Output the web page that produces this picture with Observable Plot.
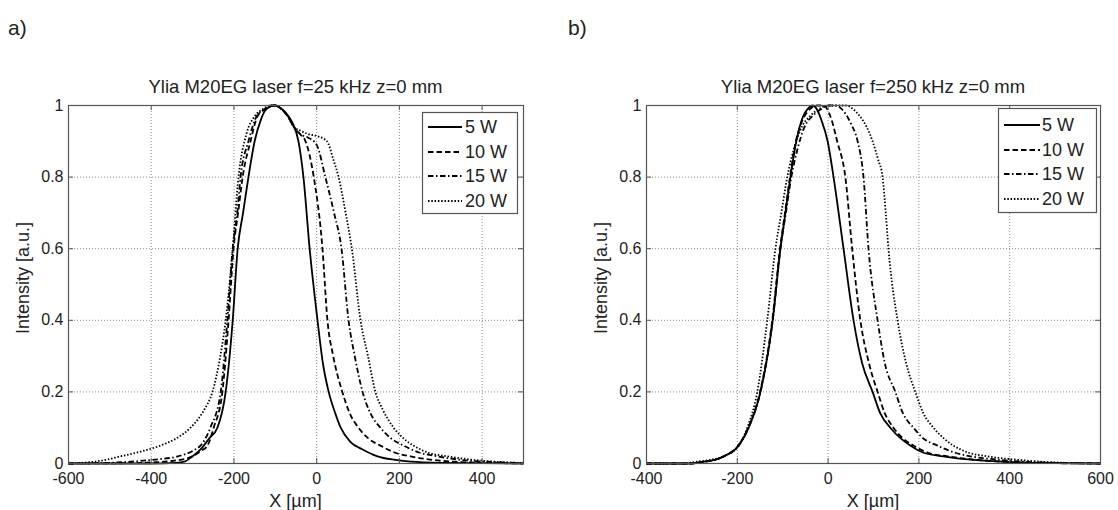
<!DOCTYPE html>
<html><head><meta charset="utf-8">
<script src="https://cdn.jsdelivr.net/npm/d3@7"></script>
<script src="https://cdn.jsdelivr.net/npm/@observablehq/plot@0.6"></script>
<style>
body{margin:0;background:#fff;font-family:"Liberation Sans",Arial,sans-serif;color:#222}
#wrap{position:relative;width:1118px;height:510px;overflow:hidden;background:#fff}
#wrap > svg{position:absolute;top:0}
</style></head><body><div id="wrap"></div>
<script>
// ---- shared ----
const seriesNames = ["5 W", "10 W", "15 W", "20 W"];
const yTicks = [0, 0.2, 0.4, 0.6, 0.8, 1];
const yLabel = "Intensity [a.u.]";
const xLabel = "X [µm]";

// ---- panel a: f = 25 kHz ----
const aTitle = "Ylia M20EG laser f=25 kHz z=0 mm";
const aXTicks = [-600, -400, -200, 0, 200, 400];
const aXDomain = [-600, 500];
const a5x = [-600,-400,-340,-320,-300,-280,-260,-240,-220,-203,-191,-178,-165,-150,-135,-125,-110,-100,-90,-75,-60,-44,-32,-17,2,15,29,45,58,82,110,147,190,227,300,400,500];
const a5y = [0,0,0.002,0.005,0.02,0.04,0.07,0.1,0.2,0.4,0.6,0.7,0.8,0.9,0.96,0.985,0.998,1,0.995,0.98,0.955,0.9,0.8,0.6,0.4,0.28,0.2,0.14,0.1,0.06,0.04,0.02,0.01,0.005,0.002,0.001,0];
const a10x = [-600,-450,-400,-350,-300,-280,-264,-249,-228,-213,-201,-190,-179,-160,-143,-125,-110,-100,-85,-70,-55,-40,-27,-7,14,26,40,62,80,101,125,154,190,227,280,350,450,500];
const a10y = [0,0.001,0.003,0.007,0.02,0.035,0.05,0.1,0.2,0.4,0.6,0.7,0.8,0.9,0.97,0.99,1,1,0.99,0.97,0.94,0.92,0.9,0.8,0.6,0.4,0.3,0.2,0.14,0.1,0.07,0.05,0.03,0.02,0.01,0.004,0.001,0];
const a15x = [-600,-500,-450,-400,-336,-300,-281,-257,-232,-216,-203,-192,-184,-165,-145,-125,-110,-100,-85,-70,-55,-40,-20,0,21,42,60,77,92,111,130,154,180,210,250,292,350,450,500];
const a15y = [0,0.002,0.005,0.01,0.02,0.035,0.05,0.1,0.2,0.4,0.6,0.7,0.8,0.9,0.97,0.99,1,1,0.99,0.97,0.94,0.92,0.91,0.89,0.8,0.7,0.6,0.4,0.3,0.2,0.14,0.1,0.07,0.05,0.03,0.02,0.01,0.003,0.001];
const a20x = [-600,-580,-520,-474,-420,-378,-340,-305,-272,-252,-233,-220,-203,-189,-170,-150,-130,-110,-100,-85,-70,-55,-40,-20,0,25,40,53,70,85,106,124,142,160,186,210,234,270,316,380,480,500];
const a20y = [0,0.001,0.008,0.02,0.035,0.05,0.07,0.1,0.15,0.2,0.3,0.4,0.6,0.8,0.92,0.97,0.99,1,1,0.99,0.97,0.94,0.93,0.92,0.915,0.9,0.85,0.8,0.7,0.6,0.4,0.3,0.2,0.15,0.1,0.07,0.05,0.03,0.02,0.01,0.002,0.001];

// ---- panel b: f = 250 kHz ----
const bTitle = "Ylia M20EG laser f=250 kHz z=0 mm";
const bXTicks = [-400, -200, 0, 200, 400, 600];
const bXDomain = [-400, 600];
const b5x = [-400,-300,-274,-250,-230,-197,-175,-149,-122,-105,-94,-83,-70,-55,-45,-34,-25,-15,-1,12,34,56,75,98,115,137,160,181,210,254,320,400,500,600];
const b5y = [0,0,0.005,0.01,0.02,0.05,0.1,0.2,0.4,0.6,0.7,0.8,0.9,0.97,0.99,1,0.99,0.96,0.9,0.8,0.6,0.4,0.28,0.2,0.14,0.1,0.07,0.05,0.03,0.02,0.01,0.004,0.001,0];
const b10x = [-400,-300,-274,-250,-230,-198,-176,-150,-123,-106,-95,-84,-71,-56,-40,-25,-10,5,20,38,53,71,90,109,125,144,165,188,220,263,330,400,500,600];
const b10y = [0,0,0.005,0.01,0.02,0.05,0.1,0.2,0.4,0.6,0.7,0.8,0.9,0.96,0.99,1,1,0.97,0.9,0.8,0.6,0.4,0.28,0.2,0.14,0.1,0.07,0.05,0.03,0.02,0.01,0.004,0.001,0];
const b15x = [-400,-300,-274,-250,-230,-197,-175,-149,-122,-105,-93,-81,-67,-52,-35,-15,0,15,30,50,65,78,89,109,125,148,165,188,210,241,280,314,380,450,600];
const b15y = [0,0,0.005,0.01,0.02,0.05,0.1,0.2,0.4,0.6,0.7,0.8,0.88,0.94,0.97,0.99,1,1,0.99,0.95,0.9,0.8,0.6,0.4,0.28,0.2,0.14,0.1,0.07,0.05,0.03,0.02,0.01,0.004,0];
const b20x = [-400,-320,-290,-260,-230,-197,-178,-156,-134,-116,-103,-90,-75,-58,-40,-20,0,20,40,55,70,85,98,110,120,127,133,153,172,192,210,232,255,276,310,351,420,500,600];
const b20y = [0,0,0.005,0.01,0.02,0.05,0.1,0.2,0.4,0.6,0.7,0.8,0.88,0.94,0.97,0.99,1,1,1,0.99,0.97,0.94,0.9,0.85,0.8,0.7,0.6,0.4,0.28,0.2,0.14,0.1,0.07,0.05,0.03,0.02,0.01,0.003,0];

// ---- styles ----
const dashes = ["none", "5.5,3", "5.5,2.5,1.5,2.5", "1.5,1.8"];
const font = "Liberation Sans, Arial, Helvetica, sans-serif";

function table(xsList, ysList) {
  const rows = [];
  xsList.forEach((xs, i) => xs.forEach((x, j) => rows.push({series: seriesNames[i], x, y: ysList[i][j]})));
  return rows;
}
const aRows = table([a5x, a10x, a15x, a20x], [a5y, a10y, a15y, a20y]);
const bRows = table([b5x, b10x, b15x, b20x], [b5y, b10y, b15y, b20y]);

const W = 559, H = 510, MT = 105, MB = 47, TICK = 5;

function panel(rows, xDomain, xTicks, marginLeft, marginRight) {
  const fmt = d => String(d);
  const innerH = H - MT - MB, innerW = W - marginLeft - marginRight;
  const svg = Plot.plot({
    width: W, height: H, marginTop: MT, marginBottom: MB, marginLeft, marginRight,
    style: {fontFamily: font, fontSize: "16px", color: "#222", background: "transparent", overflow: "visible"},
    x: {domain: xDomain},
    y: {domain: [0, 1]},
    marks: [
      Plot.gridX(xTicks, {stroke: "#8a8a8a", strokeOpacity: 1, strokeDasharray: "1,2"}),
      Plot.gridY(yTicks, {stroke: "#8a8a8a", strokeOpacity: 1, strokeDasharray: "1,2"}),
      ...seriesNames.map((s, i) => Plot.line(rows.filter(r => r.series === s), {
        x: "x", y: "y", curve: "monotone-x", stroke: "#000", strokeWidth: 1.8,
        strokeLinecap: "butt", strokeDasharray: dashes[i]
      })),
      // inward MATLAB-style ticks on all four sides
      Plot.tickX(xTicks, {x: d => d, insetTop: innerH - TICK, stroke: "#555"}),
      Plot.tickX(xTicks, {x: d => d, insetBottom: innerH - TICK, stroke: "#555"}),
      Plot.tickY(yTicks, {y: d => d, insetRight: innerW - TICK, stroke: "#555"}),
      Plot.tickY(yTicks, {y: d => d, insetLeft: innerW - TICK, stroke: "#555"}),
      Plot.frame({stroke: "#555", strokeWidth: 1.2}),
      Plot.axisX(xTicks, {anchor: "bottom", tickSize: 0, tickPadding: 9, tickFormat: fmt, label: null, fontSize: 16, fill: "#222"}),
      Plot.axisY(yTicks, {anchor: "left", tickSize: 0, tickPadding: 5, tickFormat: fmt, label: null, fontSize: 16, fill: "#222"})
    ]
  });
  d3.select(svg).selectAll('g[aria-label="line"]').each(function(_, i) {
    d3.select(this).selectAll("path").attr("stroke-dasharray", dashes[i]).attr("stroke-linecap", "butt");
  });
  return svg;
}

const wrap = document.getElementById("wrap");
const pa = panel(aRows, aXDomain, aXTicks, 68, 36);
pa.style.left = "0px";
wrap.appendChild(pa);
const pb = panel(bRows, bXDomain, bXTicks, 87, 18);
pb.style.left = W + "px";
wrap.appendChild(pb);

// ---- text overlay + legends ----
const ov = d3.select(wrap).append("svg")
  .attr("width", 1118).attr("height", 510)
  .style("position", "absolute").style("left", "0px").style("top", "0px")
  .style("font-family", font).attr("fill", "#222");

const panels = [
  {tag: "a)", tagX: 8, title: aTitle, cx: 295.5, ylx: 23,
   leg: {x: 422, y: 112, w: 96, h: 102, l1: 6, l2: 40, tx: 43, rows: [15, 40, 64, 89]}},
  {tag: "b)", tagX: 568, title: bTitle, cx: 873, ylx: 601,
   leg: {x: 998, y: 108, w: 99, h: 105, l1: 6, l2: 42, tx: 44, rows: [17, 42, 66, 91]}}
];
panels.forEach(p => {
  ov.append("text").attr("x", p.tagX).attr("y", 35).attr("font-size", 21).text(p.tag);
  ov.append("text").attr("x", p.cx).attr("y", 93).attr("text-anchor", "middle").attr("font-size", 18.5).text(p.title);
  ov.append("text").attr("x", p.cx).attr("y", 507).attr("text-anchor", "middle").attr("font-size", 18).text(xLabel);
  ov.append("text").attr("transform", `translate(${p.ylx + 6},278) rotate(-90)`).attr("text-anchor", "middle").attr("font-size", 18).text(yLabel);
  const g = ov.append("g").attr("transform", `translate(${p.leg.x},${p.leg.y})`);
  g.append("rect").attr("x", 0.5).attr("y", 0.5).attr("width", p.leg.w - 1).attr("height", p.leg.h - 1)
    .attr("fill", "#fff").attr("stroke", "#555").attr("stroke-width", 1.2);
  seriesNames.forEach((s, i) => {
    const y = p.leg.rows[i];
    g.append("line").attr("x1", p.leg.l1).attr("x2", p.leg.l2).attr("y1", y).attr("y2", y)
      .attr("stroke", "#000").attr("stroke-width", 1.8).attr("stroke-dasharray", dashes[i]);
    g.append("text").attr("x", p.leg.tx).attr("y", y + 6).attr("font-size", 18).text(s);
  });
});
</script></body></html>
